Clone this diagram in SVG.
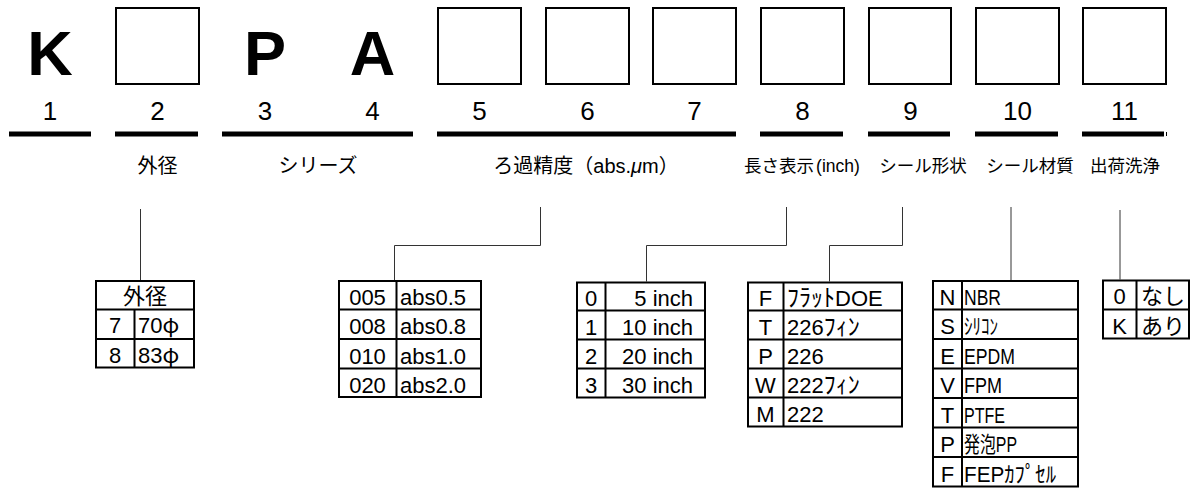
<svg xmlns="http://www.w3.org/2000/svg" width="1194" height="500" viewBox="0 0 1194 500">
<style>
text{font-family:"Liberation Sans","Noto Sans CJK JP",sans-serif;fill:#000}
.box{fill:#fff;stroke:#000;stroke-width:2}
.ul{fill:#000}
.big{font-weight:bold;font-size:63px;text-anchor:middle}
.num{font-size:26px;text-anchor:middle}
.lbl{font-size:20px;text-anchor:middle}
.lbl2{font-size:17.5px;text-anchor:middle}
.tb{fill:#fff;stroke:#000;stroke-width:2}
.tl{stroke:#000;stroke-width:2;fill:none}
.t{font-size:22px}
.c{text-anchor:middle}
.e{text-anchor:end}
.hk{font-size:24px}
.cj{font-family:"Noto Sans CJK JP",sans-serif}
.conn{fill:none;stroke:#333;stroke-width:1}
</style>
<rect width="1194" height="500" fill="#fff"/>

<g id="code-1">
<text class="big" x="50" y="75">K</text>
<text class="num" x="50" y="120">1</text>
<rect class="ul" x="9" y="131.5" width="82" height="5"/>
</g>
<g id="code-2">
<rect class="box" x="116" y="8" width="83" height="76"/>
<text class="num" x="157.5" y="120">2</text>
<rect class="ul" x="115" y="131.5" width="83" height="5"/>
<text class="lbl" x="157.5" y="173">外径</text>
</g>
<g id="code-3-4">
<text class="big" x="265" y="75">P</text>
<text class="big" x="372.5" y="75">A</text>
<text class="num" x="265" y="120">3</text>
<text class="num" x="372.5" y="120">4</text>
<rect class="ul" x="222" y="131.5" width="191" height="5"/>
<text class="lbl" x="318" y="173">シリーズ</text>
</g>
<g id="code-5-7">
<rect class="box" x="438" y="8" width="83" height="76"/>
<rect class="box" x="546" y="8" width="83" height="76"/>
<rect class="box" x="653" y="8" width="83" height="76"/>
<text class="num" x="479.5" y="120">5</text>
<text class="num" x="587.5" y="120">6</text>
<text class="num" x="694.5" y="120">7</text>
<rect class="ul" x="437" y="131.5" width="299" height="5"/>
<text class="lbl" x="586" y="173" font-size="19">ろ過精度（abs.<tspan font-style="italic">μ</tspan>m）</text>
</g>
<g id="code-8">
<rect class="box" x="761" y="8" width="83" height="76"/>
<text class="num" x="802.5" y="120">8</text>
<rect class="ul" x="760" y="131.5" width="83" height="5"/>
<text class="lbl2" x="802" y="172">長さ表示<tspan dx="2">(inch)</tspan></text>
</g>
<g id="code-9">
<rect class="box" x="869" y="8" width="82" height="76"/>
<text class="num" x="910.5" y="120">9</text>
<rect class="ul" x="868" y="131.5" width="82" height="5"/>
<text class="lbl2" x="923" y="172">シール形状</text>
</g>
<g id="code-10">
<rect class="box" x="976" y="8" width="83" height="76"/>
<text class="num" x="1017.5" y="120">10</text>
<rect class="ul" x="975" y="131.5" width="83" height="5"/>
<text class="lbl2" x="1030" y="172">シール材質</text>
</g>
<g id="code-11">
<rect class="box" x="1083" y="8" width="83" height="76"/>
<text class="num" x="1124.5" y="120">11</text>
<rect class="ul" x="1082" y="131.5" width="82" height="5"/>
<rect class="ul" x="1166" y="132" width="1" height="4"/>
<text class="lbl2" x="1125" y="172">出荷洗浄</text>
</g>

<g id="connectors">
<path class="conn" d="M140.5,209 V280"/>
<path class="conn" d="M540.5,207 V245.5 H394.5 V280"/>
<path class="conn" d="M786.5,207 V245.5 H646.5 V281.5"/>
<path class="conn" d="M902.5,207 V245.5 H829.5 V281.5"/>
<path class="conn" d="M1011,207 V280"/>
<path class="conn" d="M1120,210 V279.5"/>
</g>

<g id="table-outer-diameter" class="t">
<rect class="tb" x="96" y="281" width="98" height="86.5"/>
<path class="tl" d="M96,309.5 H194 M96,339 H194 M134.5,309.5 V367.5"/>
<text class="c" x="145" y="303.5">外径</text>
<text class="c" x="115" y="333">7</text>
<text x="138" y="333">70<tspan class="cj">φ</tspan></text>
<text class="c" x="115" y="362.5">8</text>
<text x="138" y="362.5">83<tspan class="cj">φ</tspan></text>
</g>

<g id="table-precision" class="t">
<rect class="tb" x="339" y="281" width="142" height="116"/>
<path class="tl" d="M339,309.5 H481 M339,339 H481 M339,368.5 H481 M396.5,281 V397"/>
<text class="c" x="367.5" y="304.5">005</text><text x="400" y="304.5">abs0.5</text>
<text class="c" x="367.5" y="334">008</text><text x="400" y="334">abs0.8</text>
<text class="c" x="367.5" y="363.5">010</text><text x="400" y="363.5">abs1.0</text>
<text class="c" x="367.5" y="393">020</text><text x="400" y="393">abs2.0</text>
</g>

<g id="table-length" class="t" font-size="23">
<rect class="tb" x="577" y="282.5" width="128" height="115"/>
<path class="tl" d="M577,310.5 H705 M577,339.5 H705 M577,368.5 H705 M605.5,282.5 V397.5"/>
<text class="c" x="591" y="305.5">0</text><text class="e" x="693" y="305.5">5 inch</text>
<text class="c" x="591" y="334.5">1</text><text class="e" x="693" y="334.5">10 inch</text>
<text class="c" x="591" y="363.5">2</text><text class="e" x="693" y="363.5">20 inch</text>
<text class="c" x="591" y="392.5">3</text><text class="e" x="693" y="392.5">30 inch</text>
</g>

<g id="table-seal-shape" class="t">
<rect class="tb" x="748" y="282.5" width="154" height="144"/>
<path class="tl" d="M748,310.5 H902 M748,339.5 H902 M748,368.5 H902 M748,397.5 H902 M783.5,282.5 V426.5"/>
<text class="c" x="765.5" y="305.5">F</text><text x="787" y="305.5"><tspan class="hk">ﾌﾗｯﾄ</tspan>DOE</text>
<text class="c" x="765.5" y="334.5">T</text><text x="787" y="334.5">226<tspan class="hk">ﾌｨﾝ</tspan></text>
<text class="c" x="765.5" y="363.5">P</text><text x="787" y="363.5">226</text>
<text class="c" x="765.5" y="392.5">W</text><text x="787" y="392.5">222<tspan class="hk">ﾌｨﾝ</tspan></text>
<text class="c" x="765.5" y="421.5">M</text><text x="787" y="421.5">222</text>
</g>

<g id="table-seal-material" class="t">
<rect class="tb" x="933" y="281" width="145" height="205.5"/>
<path class="tl" d="M933,309.5 H1078 M933,339 H1078 M933,368.5 H1078 M933,398 H1078 M933,427.5 H1078 M933,457 H1078 M962,281 V486.5"/>
<text class="c" x="947.5" y="304.5">N</text><text x="964" y="304.5" textLength="37" lengthAdjust="spacingAndGlyphs">NBR</text>
<text class="c" x="947.5" y="334">S</text><text x="964" y="334" textLength="34" lengthAdjust="spacingAndGlyphs">ｼﾘｺﾝ</text>
<text class="c" x="947.5" y="363.5">E</text><text x="964" y="363.5" textLength="51" lengthAdjust="spacingAndGlyphs">EPDM</text>
<text class="c" x="947.5" y="393">V</text><text x="964" y="393" textLength="38" lengthAdjust="spacingAndGlyphs">FPM</text>
<text class="c" x="947.5" y="422.5">T</text><text x="964" y="422.5" textLength="41" lengthAdjust="spacingAndGlyphs">PTFE</text>
<text class="c" x="947.5" y="452">P</text><text x="964" y="452" textLength="53" lengthAdjust="spacingAndGlyphs">発泡PP</text>
<text class="c" x="947.5" y="481.5">F</text><text x="964" y="481.5" textLength="92" lengthAdjust="spacingAndGlyphs">FEPｶﾌﾟｾﾙ</text>
</g>

<g id="table-cleaning" class="t" font-size="21">
<rect class="tb" x="1103" y="280.5" width="86" height="58"/>
<path class="tl" d="M1103,309.5 H1189 M1136.5,280.5 V338.5"/>
<text class="c" x="1119.5" y="304">0</text><text class="c" x="1163" y="304">なし</text>
<text class="c" x="1119.5" y="333.5">K</text><text class="c" x="1163" y="333.5">あり</text>
</g>
</svg>
